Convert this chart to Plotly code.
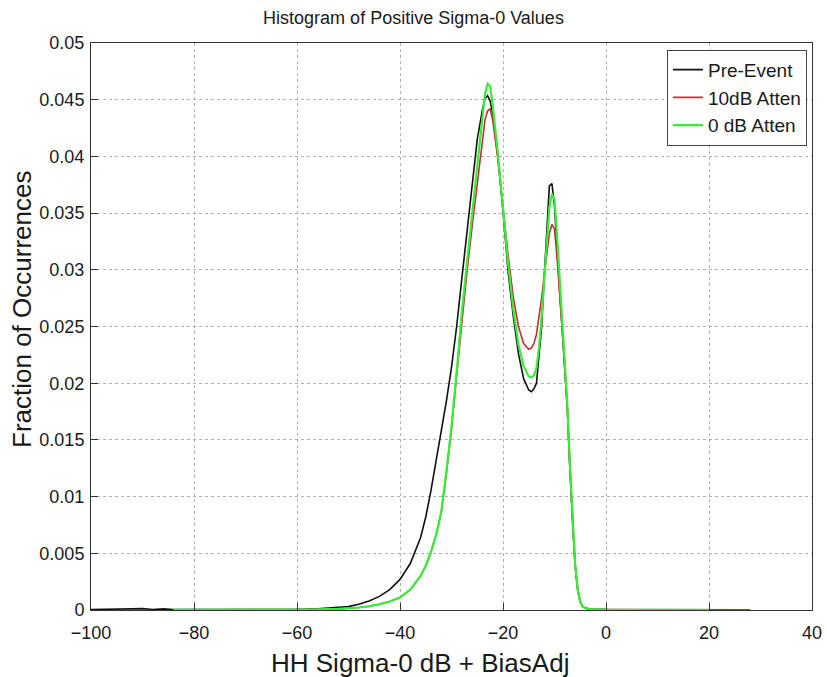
import plotly.graph_objects as go

# ---- data ----
X_CORE = [-60, -56, -52, -50, -48, -46, -44, -42, -40, -38, -36, -35, -34, -33, -32, -31,
          -30, -29, -28, -27, -26, -25, -24, -23.5, -23, -22.5, -22, -21, -20, -19, -18, -17,
          -16, -15, -14.5, -14, -13.5, -13, -12.5, -12, -11.5, -11, -10.5, -10, -9.5, -9,
          -8.5, -8, -7.5, -7, -6.5, -6, -5.5, -5, -4.5, -4, -3, -2, 0]

Y_PRE = [0.00005, 0.0001, 0.0002, 0.0003, 0.0005, 0.0008, 0.0012, 0.0018, 0.0027, 0.0041,
         0.0064, 0.0082, 0.0105, 0.0131, 0.0158, 0.0184, 0.0214, 0.0250, 0.0292, 0.0334,
         0.0378, 0.0415, 0.0441, 0.0451, 0.04535, 0.0449, 0.0438, 0.0400, 0.0352, 0.0298,
         0.0259, 0.0226, 0.0204, 0.0194, 0.01925, 0.0195, 0.0200, 0.0222, 0.0250, 0.0293,
         0.0340, 0.0374, 0.0376, 0.0356, 0.0318, 0.0284, 0.0253, 0.0215, 0.0176, 0.0123,
         0.0075, 0.0040, 0.0018, 0.0007, 0.0003, 0.00015, 0.00008, 0.00005, 0.00003]

Y_10DB = [0.00003, 0.00005, 0.0001, 0.00015, 0.00022, 0.00033, 0.0005, 0.00075, 0.0011, 0.0018,
          0.0030, 0.0039, 0.0051, 0.0066, 0.0086, 0.0120, 0.0160, 0.0207, 0.0256, 0.0298,
          0.0338, 0.0375, 0.0415, 0.0432, 0.0440, 0.0442, 0.0432, 0.0398, 0.0355, 0.0312,
          0.0276, 0.0250, 0.0235, 0.0230, 0.0231, 0.0235, 0.0243, 0.0258, 0.0275, 0.0295,
          0.0316, 0.0332, 0.0340, 0.0336, 0.0310, 0.0280, 0.0250, 0.0215, 0.0178, 0.0125,
          0.0076, 0.0040, 0.0018, 0.0007, 0.0003, 0.00015, 0.00008, 0.00005, 0.00003]

Y_0DB = [0.00003, 0.00005, 0.0001, 0.00015, 0.00022, 0.00033, 0.0005, 0.00075, 0.0011, 0.0018,
         0.0030, 0.0039, 0.0051, 0.0066, 0.0086, 0.0122, 0.0162, 0.0210, 0.0262, 0.0306,
         0.0349, 0.0390, 0.0435, 0.0455, 0.0464, 0.0462, 0.0445, 0.0403, 0.0354, 0.0305,
         0.0265, 0.0234, 0.0215, 0.0206, 0.0205, 0.0207, 0.0213, 0.0232, 0.0258, 0.0292,
         0.0328, 0.0355, 0.0367, 0.0362, 0.0330, 0.0290, 0.0255, 0.0218, 0.0180, 0.0128,
         0.0078, 0.0041, 0.0018, 0.0007, 0.0003, 0.00015, 0.00008, 0.00005, 0.00003]

# tails outside the core range
X_PRE_LEFT = [-100, -98, -96, -94, -92, -90, -88, -86, -84, -80, -70]
Y_PRE_LEFT = [0.00005, 0.00005, 0.0001, 0.00005, 0.0001, 0.00012, 0.00005, 0.0001, 0.00005, 0.00003, 0.00003]
X_LEFT = [-84, -80, -70]
Y_LEFT = [0.00002, 0.00002, 0.00002]
X_RIGHT_PRE = [5, 10, 15, 20]
Y_RIGHT_PRE = [0.00002, 0.00002, 0.00002, 0.00002]
X_RIGHT_0DB = [5, 10, 15, 20]
Y_RIGHT_0DB = [0.00002, 0.00002, 0.00002, 0.00002]
X_RIGHT_10DB = [5, 10, 15, 20, 24, 28]
Y_RIGHT_10DB = [0.00002, 0.00002, 0.00002, 0.00002, 0.00002, 0.00002]

X_TICKS = [-100, -80, -60, -40, -20, 0, 20, 40]
Y_TICKS = [0, 0.005, 0.01, 0.015, 0.02, 0.025, 0.03, 0.035, 0.04, 0.045, 0.05]
Y_TICK_TEXT = ["0", "0.005", "0.01", "0.015", "0.02", "0.025", "0.03", "0.035", "0.04", "0.045", "0.05"]

FONT = "Liberation Sans, Arial, sans-serif"
TXT = "#1a1a1a"

# plot-area geometry in pixels (used to place the axis titles like the reference)
W, H = 827, 677
L, R, T, B = 91, 15, 43, 67
PW, PH = W - L - R, H - T - B


def px_to_paper(px, py):
    return (px - L) / PW, (H - B - py) / PH


fig = go.Figure()
fig.add_trace(go.Scatter(x=X_PRE_LEFT + X_CORE + X_RIGHT_PRE, y=Y_PRE_LEFT + Y_PRE + Y_RIGHT_PRE,
                         mode="lines", name="Pre-Event", line=dict(color="#111111", width=1.6)))
fig.add_trace(go.Scatter(x=X_LEFT + X_CORE + X_RIGHT_10DB, y=Y_LEFT + Y_10DB + Y_RIGHT_10DB,
                         mode="lines", name="10dB Atten", line=dict(color="#cc2b35", width=1.6)))
fig.add_trace(go.Scatter(x=X_LEFT + X_CORE + X_RIGHT_0DB, y=Y_LEFT + Y_0DB + Y_RIGHT_0DB,
                         mode="lines", name="0 dB Atten", line=dict(color="#35ee35", width=2.2)))

axis_common = dict(showline=True, linecolor="#333333", linewidth=1, mirror=True,
                   ticks="inside", ticklen=7, tickcolor="#333333",
                   showgrid=True, gridcolor="#b0b0b0", griddash="dot", gridwidth=1,
                   zeroline=False, automargin=False,
                   tickfont=dict(size=18, color=TXT, family=FONT))

xt_x, xt_y = px_to_paper(420, 663)
yt_x, yt_y = px_to_paper(22, 310)

fig.update_layout(
    width=W, height=H,
    margin=dict(l=L, r=R, t=T, b=B, autoexpand=False),
    paper_bgcolor="white", plot_bgcolor="white",
    font=dict(family=FONT, color=TXT),
    title=dict(text="Histogram of Positive Sigma-0 Values", x=0.5, xanchor="center",
               y=1 - 18 / H, yanchor="middle", font=dict(size=18, family=FONT, color=TXT)),
    xaxis=dict(range=[-100, 40], tickvals=X_TICKS, ticklabelstandoff=6, **axis_common),
    yaxis=dict(range=[0, 0.05], tickvals=Y_TICKS, ticktext=Y_TICK_TEXT, ticklabelstandoff=2,
               **axis_common),
    legend=dict(x=0.993, y=0.988, xanchor="right", yanchor="top",
                bordercolor="#444444", borderwidth=1, bgcolor="white",
                font=dict(size=19, family=FONT, color=TXT), tracegroupgap=0),
    showlegend=True,
    annotations=[
        dict(text="HH Sigma-0 dB + BiasAdj", xref="paper", yref="paper",
             x=xt_x, y=xt_y, xanchor="center", yanchor="middle", showarrow=False,
             font=dict(size=26, family=FONT, color=TXT)),
        dict(text="Fraction of Occurrences", xref="paper", yref="paper", textangle=-90,
             x=yt_x, y=yt_y, xanchor="center", yanchor="middle", showarrow=False,
             font=dict(size=26, family=FONT, color=TXT)),
    ],
)

fig.write_html("out.html")
